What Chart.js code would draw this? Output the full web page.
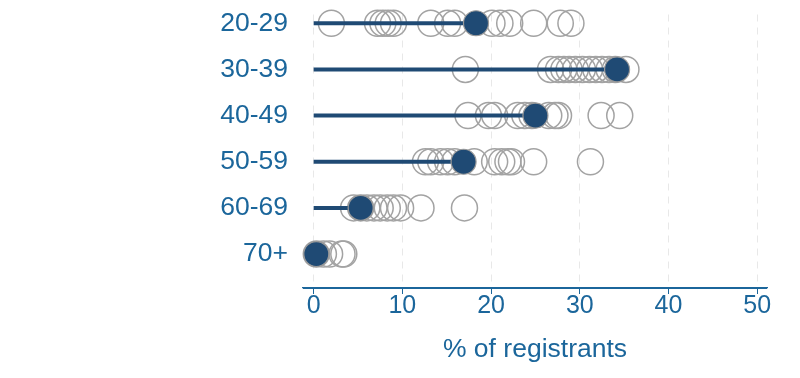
<!DOCTYPE html>
<html>
<head>
<meta charset="utf-8">
<script src="https://cdn.jsdelivr.net/npm/chart.js@4/dist/chart.umd.min.js"></script>
<style>
  html, body { margin: 0; padding: 0; background: #ffffff; }
  #wrap { width: 800px; height: 378px; position: relative; }
</style>
</head>
<body>
<div id="wrap"><canvas id="c" width="800" height="378"></canvas></div>
<script>
// Age groups (rows, top to bottom)
const categories = ["20-29", "30-39", "40-49", "50-59", "60-69", "70+"];

// Overall share of registrants per age group (filled dot and bar)
const overall = [18.3, 34.2, 25.0, 16.9, 5.3, 0.3];

// Individual values per age group (hollow circles)
const group2029 = [2.0, 7.2, 7.8, 8.4, 9.0, 13.2, 15.1, 15.9, 20.1, 21.0, 22.1, 24.8, 27.8, 29.0];
const group3039 = [17.1, 26.7, 27.6, 28.2, 28.8, 29.5, 30.3, 31.1, 31.8, 32.5, 33.3, 34.0, 35.2];
const group4049 = [17.4, 19.7, 20.4, 23.0, 23.8, 24.6, 26.5, 27.2, 27.6, 32.4, 34.5];
const group5059 = [12.6, 13.2, 14.3, 15.1, 15.9, 18.1, 20.4, 21.2, 21.9, 22.3, 24.8, 31.2];
const group6069 = [4.5, 5.3, 6.0, 6.8, 7.5, 8.3, 9.0, 9.8, 12.1, 17.0];
const group70 = [0.3, 1.1, 1.8, 3.2, 3.4];

const xTicks = [0, 10, 20, 30, 40, 50];
const xTitle = "% of registrants";

const groups = [group2029, group3039, group4049, group5059, group6069, group70];

const blue = "#1b669b";
const navy = "#1f4a74";
const grey = "#a3a3a3";

const datasets = [];

// hollow circles
const hollow = [];
groups.forEach((vals, row) => vals.forEach(v => hollow.push({ x: v, y: row })));
datasets.push({
  type: "scatter",
  data: hollow,
  pointRadius: 13,
  pointHoverRadius: 13,
  pointBackgroundColor: "rgba(255,255,255,0)",
  pointBorderColor: grey,
  pointBorderWidth: 1.5,
  clip: false,
  order: 3
});

// lines from zero to the overall value
overall.forEach((v, row) => {
  datasets.push({
    type: "line",
    data: [{ x: 0, y: row }, { x: v, y: row }],
    borderColor: navy,
    borderWidth: 4,
    pointRadius: 0,
    pointHoverRadius: 0,
    fill: false,
    clip: false,
    order: 2
  });
});

// filled dots
datasets.push({
  type: "scatter",
  data: overall.map((v, row) => ({ x: v, y: row })),
  pointRadius: 12.5,
  pointHoverRadius: 12.5,
  pointBackgroundColor: navy,
  pointBorderColor: "#9a9a9a",
  pointBorderWidth: 1.2,
  clip: false,
  order: 1
});

const font = "'Liberation Sans', Arial, sans-serif";

new Chart(document.getElementById("c"), {
  type: "scatter",
  data: { datasets },
  options: {
    responsive: false,
    animation: false,
    layout: { padding: { left: 0, right: 33, top: 0, bottom: 0 } },
    plugins: { legend: { display: false }, tooltip: { enabled: false } },
    scales: {
      x: {
        type: "linear",
        position: "bottom",
        min: -1.2,
        max: 51.1,
        afterBuildTicks: s => { s.ticks = xTicks.map(v => ({ value: v })); },
        afterFit: s => { s.height = 90; s.paddingLeft = 0; s.paddingRight = 0; },
        grid: {
          color: "#e8e8e8",
          tickColor: blue,
          tickLength: 6,
          drawTicks: true
        },
        border: { display: true, color: blue, width: 1.2, dash: [7, 6] },
        ticks: {
          color: blue,
          font: { family: font, size: 25 },
          padding: -3,
          maxRotation: 0
        },
        title: {
          display: true,
          text: xTitle,
          color: blue,
          font: { family: font, size: 26.5 },
          padding: { top: 4, bottom: 12 }
        }
      },
      y: {
        type: "linear",
        reverse: true,
        min: -0.19,
        max: 5.736,
        afterBuildTicks: s => { s.ticks = categories.map((c, i) => ({ value: i })); },
        afterFit: s => { s.width = 303; s.paddingTop = 0; s.paddingBottom = 0; },
        grid: { display: false, drawTicks: false },
        border: { display: false },
        ticks: {
          color: blue,
          font: { family: font, size: 26.5 },
          padding: 15,
          callback: v => categories[v]
        }
      }
    }
  },
  plugins: [{
    id: "axisLine",
    afterDatasetsDraw(chart) {
      // solid x axis line drawn over the dashed border
      const { ctx, chartArea } = chart;
      ctx.save();
      ctx.strokeStyle = blue;
      ctx.lineWidth = 1.2;
      ctx.beginPath();
      ctx.moveTo(chartArea.left, chartArea.bottom + 0.5);
      ctx.lineTo(chartArea.right, chartArea.bottom + 0.5);
      ctx.stroke();
      ctx.restore();
    }
  }]
});
</script>
</body>
</html>
